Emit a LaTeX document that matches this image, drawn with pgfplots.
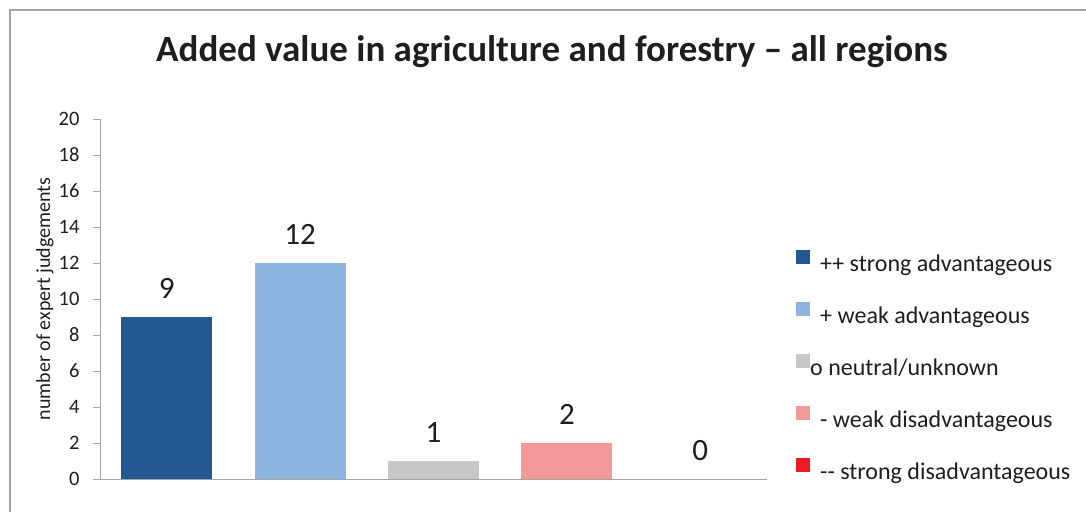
\documentclass[border=0pt]{standalone}
\usepackage{fontspec}
\setmainfont{Carlito}
\usepackage{pgfplots}
\pgfplotsset{compat=1.18}
\definecolor{cA}{RGB}{34,87,143}
\definecolor{cB}{RGB}{142,180,224}
\definecolor{cC}{RGB}{198,199,200}
\definecolor{cD}{RGB}{245,152,153}
\definecolor{cE}{RGB}{237,28,36}
\definecolor{axgray}{RGB}{165,165,165}
\definecolor{txt}{RGB}{30,30,30}
\begin{document}
\begin{tikzpicture}[x=1pt,y=1pt]
\path[use as bounding box] (0,0) rectangle (1086,512);
\draw[color=axgray, line width=1.2pt] (10,0) -- (10,502) -- (1086,502);
\node[font=\fontsize{37}{41}\bfseries\selectfont, text=txt] at (552,460) {Added value in agriculture and forestry – all regions};
\begin{axis}[
  at={(100pt,33pt)}, anchor=south west,
  scale only axis, width=667pt, height=360pt,
  xmin=-0.5, xmax=4.5, ymin=0, ymax=20,
  ytick={0,2,...,20}, xtick=\empty,
  axis x line*=bottom, axis y line*=left,
  axis line style={-, color=axgray, line width=1pt},
  axis on top,
  tick align=outside, major tick length=7pt,
  ytick style={color=axgray, line width=1pt},
  /pgf/number format/assume math mode=true,
  yticklabel style={font=\fontsize{20.5}{22}\selectfont, text=txt, xshift=-10pt},
  ylabel={number of expert judgements},
  ylabel style={at={(axis description cs:-0.0825,0.5)}, anchor=center, font=\fontsize{20}{22}\selectfont, text=txt},
  ybar, bar width=91pt, bar shift=0pt,
  nodes near coords,
  every node near coord/.append style={font=\fontsize{31}{34}\selectfont, text=txt, yshift=15pt},
  legend style={at={(axis description cs:1.039,0.641)}, anchor=north west, draw=none, fill=none,
    font=\fontsize{24}{28}\selectfont, text=txt, row sep=26pt,
    nodes={inner sep=0pt, text height=17pt, text depth=5pt}},
  legend cell align=left,
  legend image code/.code={\fill[#1,draw=none] (0pt,1pt) rectangle (14pt,15pt);},
  /tikz/every even column/.append style={column sep=2pt},
]
\addplot[fill=cA, draw=none] coordinates {(0,9)};
\addlegendentry{\hspace*{10pt}++ strong advantageous}
\addplot[fill=cB, draw=none] coordinates {(1,12)};
\addlegendentry{\hspace*{10pt}+ weak advantageous}
\addplot[fill=cC, draw=none] coordinates {(2,1)};
\addlegendentry{o neutral/unknown}
\addplot[fill=cD, draw=none] coordinates {(3,2)};
\addlegendentry{\hspace*{10pt}- weak disadvantageous}
\addplot[fill=cE, draw=none] coordinates {(4,0)};
\addlegendentry{\hspace*{10pt}-{}- strong disadvantageous}
\end{axis}
\end{tikzpicture}
\end{document}
